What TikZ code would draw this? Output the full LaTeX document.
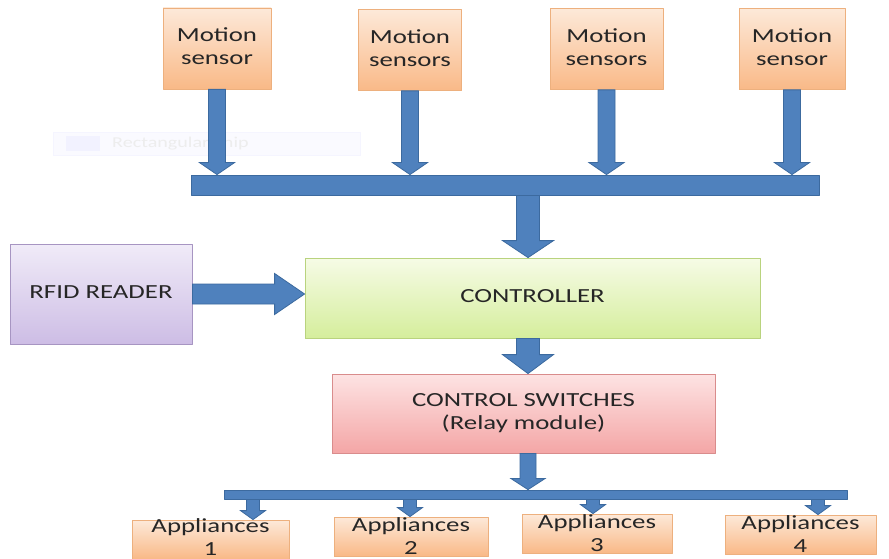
\documentclass[tikz,border=0pt]{standalone}
\usepackage{fontspec}
\setmainfont{Carlito}
\usepackage{graphicx}
\usetikzlibrary{calc}

\definecolor{flowblue}{HTML}{4F81BD}
\definecolor{flowedge}{HTML}{3C6A9F}
\definecolor{sensortop}{HTML}{FDE9D9}
\definecolor{sensorbot}{HTML}{F9B987}
\definecolor{sensorline}{HTML}{EDB07E}
\definecolor{ctrltop}{HTML}{F6FBE6}
\definecolor{ctrlbot}{HTML}{D5EE9C}
\definecolor{ctrlline}{HTML}{B9D37E}
\definecolor{rfidtop}{HTML}{F0EBF8}
\definecolor{rfidbot}{HTML}{CDBDE5}
\definecolor{rfidline}{HTML}{A795C2}
\definecolor{swtop}{HTML}{FDE3E3}
\definecolor{swbot}{HTML}{F4A6A6}
\definecolor{swline}{HTML}{D98C8C}
\definecolor{textgray}{HTML}{262626}

% stretched text, the labels are wide
\newcommand{\wide}[1]{\scalebox{1.34}[1]{\begin{tabular}{@{}c@{}}#1\end{tabular}}}

% block arrows: start, tip, half shaft, half head, head length
\newcommand{\blockdown}[5]{%
	\draw[blockarrow] let \p1=(#1), \p2=(#2) in
		(\x1-#3,\y1) -- (\x1-#3,\y2+#5) -- (\x1-#4,\y2+#5) -- (\x1,\y2)
		-- (\x1+#4,\y2+#5) -- (\x1+#3,\y2+#5) -- (\x1+#3,\y1) -- cycle;}
\newcommand{\blockright}[5]{%
	\draw[blockarrow] let \p1=(#1), \p2=(#2) in
		(\x1,\y1+#3) -- (\x2-#5,\y1+#3) -- (\x2-#5,\y1+#4) -- (\x2,\y1)
		-- (\x2-#5,\y1-#4) -- (\x2-#5,\y1-#3) -- (\x1,\y1-#3) -- cycle;}

\tikzset{
	box/.style={inner sep=0pt, line width=0.8pt, text=textgray, font=\fontsize{20}{23}\selectfont},
	sensor/.style={box, draw=sensorline, top color=sensortop, bottom color=sensorbot, minimum height=81},
	appliance/.style={sensor, minimum height=39, text height=0pt, text depth=0pt},
	bus/.style={draw=flowedge, fill=flowblue, line width=0.8pt, inner sep=0pt},
	blockarrow/.style={draw=flowedge, fill=flowblue, line width=0.8pt, line join=miter},
}

\begin{document}
\begin{tikzpicture}[x=1pt, y=-1pt, line join=round]
	\useasboundingbox[fill=white] (0,0) rectangle (889,559);
	%\draw[gray!30, step=50] (0,0) grid (889,559);

	% faint snip bar
	\node[draw=blue!4, fill=blue!2, minimum width=307, minimum height=23, inner sep=0pt] (snip) at (206.5,143.5) {};
	\node[fill=blue!5, minimum width=34, minimum height=15, inner sep=0pt] (snipicon) at (83,143.5) {};
	\node[text=gray!14, font=\fontsize{15}{17}\selectfont, anchor=west, inner sep=0pt] (sniptext) at (112,143.5) {\scalebox{1.34}[1]{Rectangular Snip}};

	% sensors
	\node[sensor, minimum width=108] (s1) at (217,48.5) {\wide{Motion\\sensor}};
	\node[sensor, minimum width=103] (s2) at (410,50) {\wide{Motion\\sensors}};
	\node[sensor, minimum width=113] (s3) at (606.5,49) {\wide{Motion\\sensors}};
	\node[sensor, minimum width=106] (s4) at (792,49) {\wide{Motion\\sensor}};

	\node[bus, minimum width=628, minimum height=20] (bus1) at (505,185) {};

	\foreach \s in {s1,s2,s3,s4}
		\blockdown{\s.south}{\s.south |- bus1.north}{8.5pt}{17.5pt}{12pt};

	% controller and reader
	\node[box, draw=ctrlline, top color=ctrltop, bottom color=ctrlbot, minimum width=455, minimum height=80] (ctrl) at (532.5,298) {\wide{CONTROLLER}};
	\node[box, draw=rfidline, top color=rfidtop, bottom color=rfidbot, minimum width=182, minimum height=100] (rfid) at (101,294) {\wide{RFID READER}};
	\node[box, draw=swline, top color=swtop, bottom color=swbot, minimum width=383, minimum height=79] (sw) at (523.5,413.5) {\wide{CONTROL SWITCHES\\(Relay module)}};

	\coordinate (spine) at (528,0);
	\blockdown{spine |- bus1.south}{spine |- ctrl.north}{11.5pt}{25.5pt}{17pt};
	\blockdown{spine |- ctrl.south}{spine |- sw.north}{11.5pt}{25.5pt}{19pt};
	\blockright{rfid.east}{rfid.east -| ctrl.west}{10pt}{20.5pt}{30pt};

	% appliances
	\node[bus, minimum width=623, minimum height=9] (bus2) at (535.5,494.5) {};
	\blockdown{spine |- sw.south}{spine |- bus2.north}{8pt}{17pt}{11pt};

	\node[appliance, minimum width=157] (a1) at (210.5,539.5) {\raisebox{-5pt}{\wide{Appliances\\1}}};
	\node[appliance, minimum width=154] (a2) at (411,536.5) {\raisebox{-7pt}{\wide{Appliances\\2}}};
	\node[appliance, minimum width=150] (a3) at (597,533.5) {\raisebox{-7.5pt}{\wide{Appliances\\3}}};
	\node[appliance, minimum width=151] (a4) at (800.5,534.5) {\raisebox{-7.5pt}{\wide{Appliances\\4}}};

	\coordinate (d1) at (253,0);
	\coordinate (d2) at (410,0);
	\coordinate (d3) at (593,0);
	\coordinate (d4) at (818,0);
	\foreach \i in {1,2,3,4}
		\blockdown{d\i |- bus2.south}{d\i |- a\i.north}{6.5pt}{12.5pt}{9pt};
\end{tikzpicture}
\end{document}
